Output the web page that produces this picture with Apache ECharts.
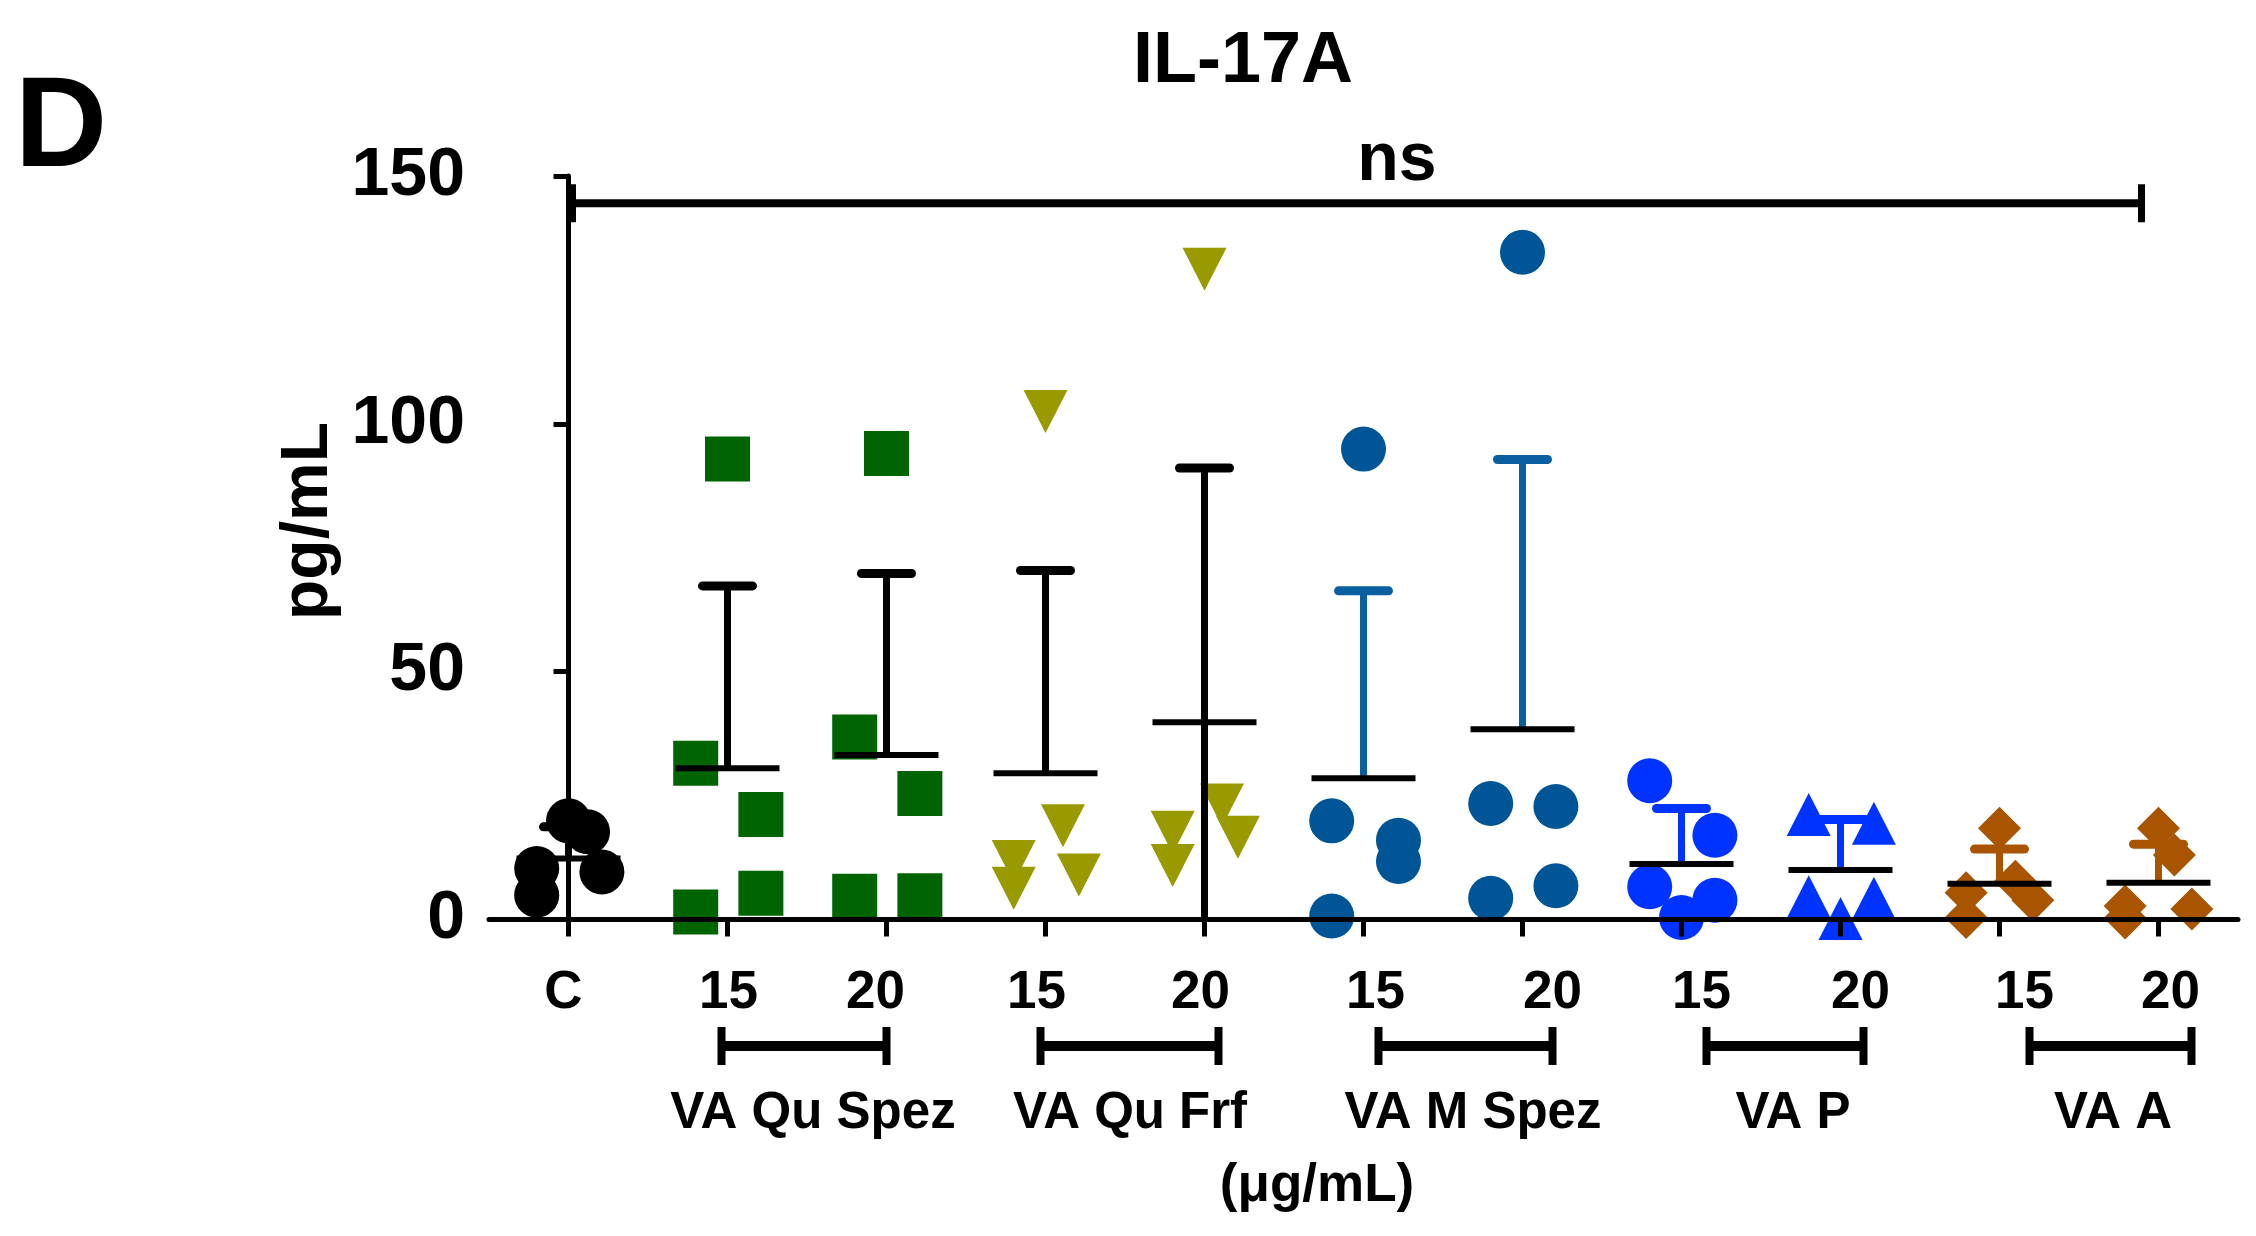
<!DOCTYPE html>
<html>
<head>
<meta charset="utf-8">
<script src="https://cdn.jsdelivr.net/npm/echarts@6/dist/echarts.min.js"></script>
<style>
html,body{margin:0;padding:0;background:#ffffff;}
#chart{width:2256px;height:1236px;}
</style>
</head>
<body>
<div id="chart"></div>
<script>
// ---------------- data ----------------
const categories = ['C', '15', '20', '15', '20', '15', '20', '15', '20', '15', '20'];
const groupNames = ['VA Qu Spez', 'VA Qu Frf', 'VA M Spez', 'VA P', 'VA A'];
const groupSpans = [[1, 2], [3, 4], [5, 6], [7, 8], [9, 10]];
const yTicks = [0, 50, 100, 150];

const valuesC        = [19.9, 17.7, 10.3, 4.9, 9.6];
const valuesQuSpez15 = [92.9, 31.5, 21.2, 5.3, 1.5];
const valuesQuSpez20 = [94.0, 36.8, 25.4, 4.8, 4.7];
const valuesQuFrf15  = [102.5, 18.9, 11.7, 9.0, 6.3];
const valuesQuFrf20  = [131.2, 23.1, 17.6, 16.6, 10.9];
const valuesMSpez15  = [94.9, 19.9, 16.0, 11.7, 0.7];
const valuesMSpez20  = [134.6, 23.4, 22.8, 6.8, 4.3];
const valuesP15      = [28.0, 17.0, 6.6, 3.9, 0.4];
const valuesP20      = [21.2, 19.4, 4.6, 4.3, 0.2];
const valuesA15      = [18.4, 7.7, 5.4, 3.9, 0.4];
const valuesA20      = [18.4, 13.0, 2.7, 2.1, 0.3];

// horizontal scatter of each point within its column (category units)
const jitterC        = [0, 0.12, -0.2, -0.2, 0.21];
const jitterQuSpez15 = [0, -0.2, 0.21, 0.21, -0.2];
const jitterQuSpez20 = [0, -0.2, 0.21, 0.21, -0.2];
const jitterQuFrf15  = [0, 0.11, -0.2, 0.21, -0.2];
const jitterQuFrf20  = [0, 0.11, -0.2, 0.21, -0.2];
const jitterMSpez15  = [0, -0.2, 0.22, 0.22, -0.2];
const jitterMSpez20  = [0, -0.2, 0.21, 0.21, -0.2];
const jitterP15      = [-0.2, 0.21, -0.2, 0.21, 0];
const jitterP20      = [-0.2, 0.21, -0.2, 0.21, 0];
const jitterA15      = [0, 0.1, -0.21, 0.21, -0.21];
const jitterA20      = [0, 0.1, -0.21, 0.21, -0.21];

const means   = [12.3, 30.5, 33.2, 29.5, 39.8, 28.5, 38.4, 11.2, 10.0, 7.2, 7.4];
const sdUpper = [18.7, 67.3, 69.8, 70.4, 91.1, 66.3, 92.8, 22.4, 20.2, 14.2, 15.2];
const sdLower = [null, null, null, null, 0, null, null, null, null, null, null];

const nsValue = 144.5;

// ---------------- styles / layout ----------------
const FONT = '"Liberation Sans", Arial, Helvetica, sans-serif';
const pointColors = ['#000000', '#006400', '#006400', '#999900', '#999900', '#005596', '#005596', '#0033ff', '#0033ff', '#a85400', '#a85400'];
const barColors   = ['#000000', '#000000', '#000000', '#000000', '#000000', '#0a5fa0', '#0a5fa0', '#0033ff', '#0033ff', '#a85400', '#a85400'];
const symbols     = ['circle', 'rect', 'rect', 'triangle', 'triangle', 'circle', 'circle', 'circle', 'triangle', 'diamond', 'diamond'];
const symbolSizes = [45, 45, 45, [44, 43], [44, 43], 45, 45, 45, [44, 43], [43, 43], [43, 43]];
const symbolRot   = [0, 0, 0, 180, 180, 0, 0, 0, 0, 0, 0];
const labelNudge  = [-5, 1, -11, -9, -4, 12, 30, 20, 20, 25, 12];
const bracketNudge = [[-6, 0], [-5, 14], [15, 30], [25, 23], [30, 33]];
const groupLabelNudge = [6, 5, 30, 32, 34];

const allValues = [valuesC, valuesQuSpez15, valuesQuSpez20, valuesQuFrf15, valuesQuFrf20,
  valuesMSpez15, valuesMSpez20, valuesP15, valuesP20, valuesA15, valuesA20];
const allJitter = [jitterC, jitterQuSpez15, jitterQuSpez20, jitterQuFrf15, jitterQuFrf20,
  jitterMSpez15, jitterMSpez20, jitterP15, jitterP20, jitterA15, jitterA20];

const chart = echarts.init(document.getElementById('chart'), null, {renderer: 'canvas'});

const scatterSeries = allValues.map((vals, i) => ({
  type: 'scatter',
  xAxisIndex: 1,
  yAxisIndex: 0,
  clip: false,
  z: 2,
  symbol: symbols[i],
  symbolSize: symbolSizes[i],
  symbolRotate: symbolRot[i],
  itemStyle: {color: pointColors[i], opacity: 1},
  emphasis: {disabled: true},
  data: vals.map((v, k) => [i + allJitter[i][k], v])
}));

const errorSeries = {
  type: 'custom',
  xAxisIndex: 1,
  yAxisIndex: 0,
  z: 3,
  clip: false,
  silent: true,
  data: means.map((m, i) => [i, m, sdUpper[i], sdLower[i] == null ? m : sdLower[i]]),
  renderItem: function (params, api) {
    const i = api.value(0), m = api.value(1), hi = api.value(2), lo = api.value(3);
    const pm = api.coord([i, m]);
    const ph = api.coord([i, hi]);
    const pl = api.coord([i, lo]);
    const c = barColors[params.dataIndex];
    const children = [
      {type: 'line', shape: {x1: pm[0], y1: pm[1], x2: ph[0], y2: ph[1]}, style: {stroke: c, lineWidth: 7}},
      {type: 'line', shape: {x1: ph[0] - 25, y1: ph[1], x2: ph[0] + 25, y2: ph[1]}, style: {stroke: c, lineWidth: 9, lineCap: 'round'}}
    ];
    if (lo < m) {
      children.push({type: 'line', shape: {x1: pm[0], y1: pm[1], x2: pl[0], y2: pl[1]}, style: {stroke: c, lineWidth: 7}});
    }
    children.push({type: 'line', shape: {x1: pm[0] - 52, y1: pm[1], x2: pm[0] + 52, y2: pm[1]}, style: {stroke: '#000000', lineWidth: 6}});
    return {type: 'group', children: children};
  }
};

chart.setOption({
  animation: false,
  backgroundColor: '#ffffff',
  grid: {left: 489, right: 18, top: 176, bottom: 316.5, containLabel: false},
  xAxis: [
    {
      type: 'category',
      data: categories,
      gridIndex: 0,
      position: 'bottom',
      boundaryGap: true,
      z: 10,
      axisLine: {show: true, lineStyle: {color: '#000000', width: 5}},
      axisTick: {show: true, alignWithLabel: true, length: 17, lineStyle: {color: '#000000', width: 5}},
      axisLabel: {show: false},
      splitLine: {show: false}
    },
    {
      type: 'value',
      gridIndex: 0,
      min: -0.5,
      max: 10.5,
      show: false
    }
  ],
  yAxis: [{
    type: 'value',
    min: yTicks[0],
    max: yTicks[yTicks.length - 1],
    interval: yTicks[1] - yTicks[0],
    z: 10,
    axisLine: {show: true, lineStyle: {color: '#000000', width: 5}},
    axisTick: {show: true, length: 15, lineStyle: {color: '#000000', width: 5}},
    axisLabel: {show: true, color: '#000000', fontSize: 68, fontWeight: 'bold', fontFamily: FONT, margin: 24},
    splitLine: {show: false}
  }],
  series: scatterSeries.concat([errorSeries])
});

// ---------------- annotations positioned through the axes ----------------
function px(x, y) { return chart.convertToPixel({xAxisIndex: 1, yAxisIndex: 0}, [x, y]); }
const tickX = categories.map((c, i) => px(i, 0)[0]);
const g = [];
const txt = (text, x, y, size, extra) => Object.assign({
  type: 'text', x: x, y: y, silent: true,
  style: {text: text, fill: '#000000', font: 'bold ' + size + 'px ' + FONT, align: 'center', verticalAlign: 'middle'}
}, extra || {});
const ln = (x1, y1, x2, y2, w) => ({type: 'line', silent: true, shape: {x1: x1, y1: y1, x2: x2, y2: y2}, style: {stroke: '#000000', lineWidth: w}});

g.push(txt('IL-17A', 1243, 62, 72));
g.push(txt('D', 61, 131, 128));
g.push(txt('pg/mL', 309, 521, 66, {rotation: Math.PI / 2}));

// ns bracket over all groups
const nsY = px(0, nsValue)[1];
const nsL = tickX[0] + 4, nsR = tickX[10] - 17;
g.push(ln(nsL, nsY, nsR, nsY, 8));
g.push(ln(nsL, nsY - 19, nsL, nsY + 19, 7));
g.push(ln(nsR, nsY - 19, nsR, nsY + 19, 7));
g.push(txt('ns', (nsL + nsR) / 2 + 40, nsY - 42, 68));

// x tick labels
categories.forEach((c, i) => g.push(txt(c, tickX[i] + labelNudge[i], 993, 53)));

// group brackets and names
groupSpans.forEach((s, k) => {
  const a = tickX[s[0]] + bracketNudge[k][0];
  const b = tickX[s[1]] + bracketNudge[k][1];
  const yb = 1046;
  g.push(ln(a, yb, b, yb, 10));
  g.push(ln(a, yb - 19, a, yb + 19, 8));
  g.push(ln(b, yb - 19, b, yb + 19, 8));
  g.push(txt(groupNames[k], (tickX[s[0]] + tickX[s[1]]) / 2 + groupLabelNudge[k], 1114, 51));
});

g.push(txt('(\u03bcg/mL)', 1317, 1186, 53));

chart.setOption({graphic: {elements: g}});
</script>
</body>
</html>
